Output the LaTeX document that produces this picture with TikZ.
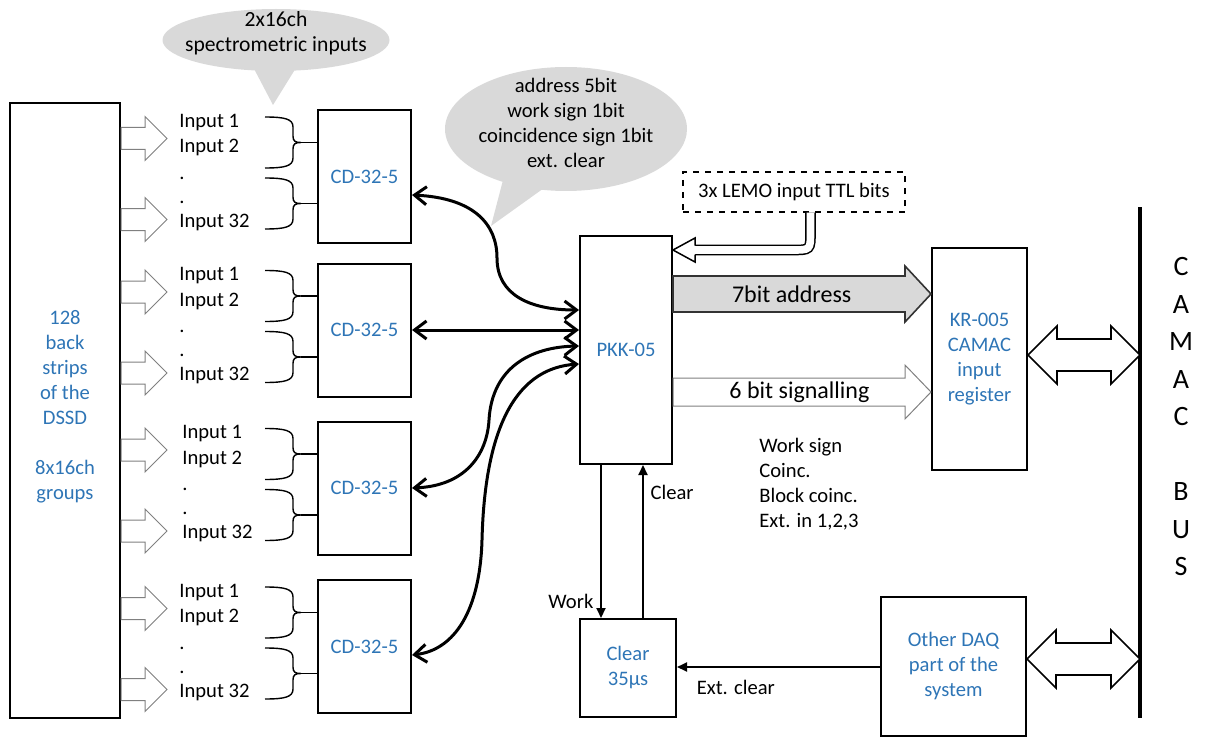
\documentclass[tikz,border=0pt]{standalone}
\usepackage{fontspec}
\setmainfont{Carlito}
\usetikzlibrary{arrows.meta,calc,shapes.callouts}
\definecolor{lblblue}{HTML}{2E75B6}

\begin{document}
\begin{tikzpicture}[
  x=0.5pt, y=-0.5pt,
  font=\fontsize{10.3}{12.5}\selectfont,
  box/.style={draw, line width=1pt, inner sep=0pt, align=center, text=lblblue},
  cdbox/.style={box, minimum width=46.5pt, minimum height=66.5pt},
  inlbl/.style={anchor=west, inner sep=0pt},
  bubble/.style={ellipse callout, fill=gray!30, inner sep=0pt, callout pointer arc=20},
  bus/.style={line width=1.5pt, {Straight Barb[length=6pt,width=9pt]}-{Straight Barb[length=6pt,width=9pt]}},
  sig/.style={line width=1pt, -{Triangle[length=5pt,width=4.5pt]}},
  bigfont/.style={font=\fontsize{12}{14}\selectfont},
  blockarrow/.style args={#1/#2/#3}{to path={
    let \p1=(\tikztostart), \p2=(\tikztotarget) in
    (\x1,\y1+#1) -- (\x2-#3,\y1+#1) -- (\x2-#3,\y1+#2) -- (\x2,\y1)
    -- (\x2-#3,\y1-#2) -- (\x2-#3,\y1-#1) -- (\x1,\y1-#1) -- cycle}},
  dblarrow/.style args={#1/#2/#3}{to path={
    let \p1=(\tikztostart), \p2=(\tikztotarget) in
    (\x1,\y1) -- (\x1+#3,\y1+#2) -- (\x1+#3,\y1+#1) -- (\x2-#3,\y1+#1) -- (\x2-#3,\y1+#2) -- (\x2,\y1)
    -- (\x2-#3,\y1-#2) -- (\x2-#3,\y1-#1) -- (\x1+#3,\y1-#1) -- (\x1+#3,\y1-#2) -- cycle}},
  inarrow/.style={draw=gray, fill=white, line width=0.5pt, blockarrow=5.5pt/11pt/11pt},
  pics/inbrace/.style={code={
    \draw[line width=0.7pt] (0,0) .. controls (20,0) and (28,2) .. (28,10) -- (28,19)
      .. controls (28,24) and (30,25.5) .. (36,25.5) .. controls (30,25.5) and (28,27) .. (28,32)
      -- (28,41) .. controls (28,49) and (20,51) .. (0,51);
    \draw[line width=0.7pt] (36,25.5) -- (53,25.5);}}
]
  \useasboundingbox (0,0) rectangle (1205,738);

  % detector strips
  \node[box, minimum width=55pt, minimum height=307.5pt] (dssd) at (65,410.5) {};
  \node[text=lblblue, align=center, inner sep=0pt] (dssdlbl) at (65,407)
    {128\\back\\strips\\of the\\DSSD\\[12.5pt]8x16ch\\groups};

  % four CD-32-5 blocks with their inputs
  \foreach \yc/\xin [count=\i] in {176.5/179, 330/179, 488/182, 646.5/179} {
    \node[cdbox] (cd\i) at (364.5,\yc) {CD-32-5};
    \node[inlbl] at (\xin,\yc-54) {Input 1};
    \node[inlbl] at (\xin,\yc-29) {Input 2};
    \node[inlbl] at (\xin,\yc+1.5) {.};
    \node[inlbl] at (\xin,\yc+25.5) {.};
    \node[inlbl] at (\xin,\yc+45.5) {Input 32};
    \coordinate (tip\i a) at (167,\yc-38);
    \coordinate (tip\i b) at (167,\yc+43);
    \draw[inarrow] (dssd.east |- tip\i a) to (tip\i a);
    \draw[inarrow] (dssd.east |- tip\i b) to (tip\i b);
    \pic at (265,\yc-59.5) {inbrace};
    \pic at (265,\yc+1.5) {inbrace};
  }

  % callouts
  \node[bubble, minimum width=113.5pt, minimum height=31pt, callout absolute pointer={(273,105)},
        label={[align=center, yshift=3.5pt, font=\fontsize{10.8}{12.5}\selectfont]center:2x16ch\\spectrometric inputs}]
        (note1) at (276,40) {};
  \node[bubble, minimum width=121pt, minimum height=62pt, callout absolute pointer={(491,226)},
        label={[align=center, yshift=3pt]center:address 5bit\\work sign 1bit\\coincidence sign 1bit\\ext. clear}]
        (note2) at (566,129) {};

  % main blocks
  \node[box, minimum width=46pt, minimum height=114pt] (pkk) at (626,350) {PKK-05};
  \node[draw, dashed, line width=0.6pt, minimum width=111pt, minimum height=20pt, inner sep=0pt]
        (lemo) at (794,192) {3x LEMO input TTL bits};
  \node[box, minimum width=47.5pt, minimum height=111pt] (kr) at (979.5,359) {KR-005\\CAMAC\\input\\register};
  \node[box, minimum width=48pt, minimum height=49pt] (clr) at (628,668) {Clear\\35µs};
  \node[box, minimum width=72.5pt, minimum height=69.5pt] (daq) at (953.5,666.5) {Other DAQ\\part of the\\system};

  % CAMAC bus
  \coordinate (bustop) at (1140,207);
  \coordinate (busbot) at (1140,718);
  \draw[line width=2pt] (bustop) -- (busbot);
  \node[font=\fontsize{14}{18.75}\selectfont, align=center, inner sep=0pt] (camac) at (1181,417)
    {C\\A\\M\\A\\C\\[18.75pt]B\\U\\S};

  % CD <-> PKK links
  \draw[bus] (cd1.east |- 0,195) .. controls (475,198) and (497,225) .. (497,258)
             .. controls (497,295) and (530,310) .. (pkk.west |- 0,310);
  \draw[bus] (cd2.east) -- (pkk.west |- cd2.east);
  \draw[bus] (cd3.east) .. controls (465,486) and (487,455) .. (489,420)
             .. controls (492,368) and (530,347) .. (pkk.west |- 0,346);
  \draw[bus] (cd4.east |- 0,655) .. controls (455,650) and (480,610) .. (482,540)
             .. controls (485,420) and (520,368) .. (pkk.west |- 0,364);

  % LEMO inputs
  \draw[double, double distance=3.8pt, line width=0.75pt] (lemo.south -| 810.5,0) -- (810.5,232)
        .. controls (810.5,250) .. (792,250) -- (695,250);
  \filldraw[fill=white, line width=0.75pt] (695,245.5) -- (695,238) -- (pkk.east |- 0,250) -- (695,262) -- (695,254.5);

  % PKK -> KR
  \draw[draw=black!80, fill=gray!30, line width=0.8pt, blockarrow=9pt/14pt/13pt] (pkk.east |- 0,294) to (kr.west |- 0,294);
  \path (pkk.east |- 0,294) -- (kr.west |- 0,294) node[pos=0.46, bigfont] (addr) {7bit address};
  \draw[draw=gray, fill=white, line width=0.5pt, blockarrow=7pt/13.5pt/13pt] (pkk.east |- 0,392) to (kr.west |- 0,392);
  \path (pkk.east |- 0,392) -- (kr.west |- 0,392) node[pos=0.49, bigfont] (sgnl) {6 bit signalling};
  \node[anchor=west, align=left, inner sep=0pt] (sigs) at (759,484) {Work sign\\Coinc.\\Block coinc.\\Ext. in 1,2,3};

  % bus connections
  \draw[fill=white, line width=0.8pt, dblarrow=8pt/14.5pt/14.5pt] (kr.east |- 0,355) to (bustop |- 0,355);
  \draw[fill=white, line width=0.8pt, dblarrow=8pt/14.5pt/14.5pt] (daq.east |- 0,659) to (bustop |- 0,659);

  % clear logic
  \draw[sig] (pkk.south -| 601,0) -- (clr.north -| 601,0) node[pos=0.89, left] {Work};
  \draw[sig] (clr.north -| 643,0) -- (pkk.south -| 643,0) node[pos=0.82, right] {Clear};
  \draw[sig] (daq.west |- 0,667) -- (clr.east |- 0,667) node[pos=0.71, below=3pt] {Ext. clear};
\end{tikzpicture}
\end{document}
